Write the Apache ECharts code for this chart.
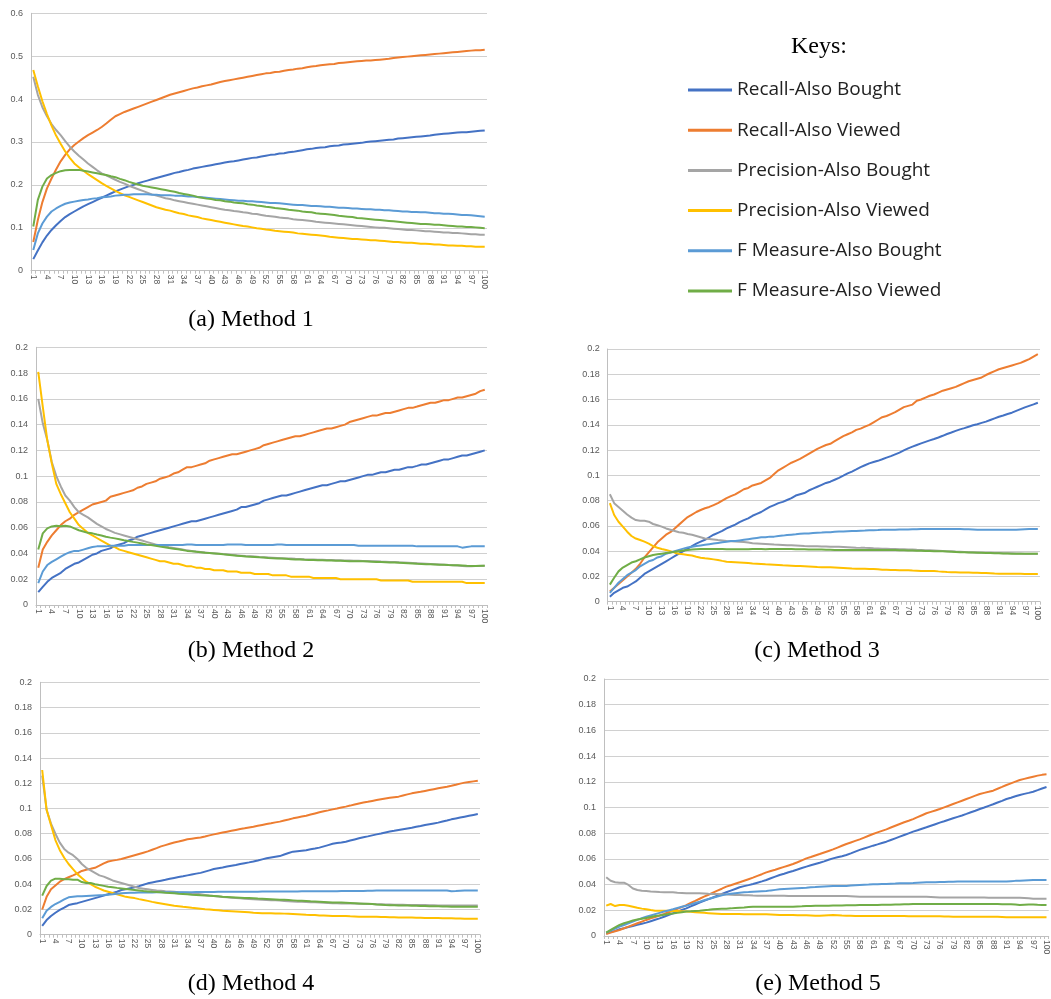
<!DOCTYPE html>
<html>
<head>
<meta charset="utf-8">
<title>Recall, Precision and F Measure by Method</title>
<script src="https://cdn.jsdelivr.net/npm/echarts@6/dist/echarts.min.js"></script>
<style>
  html, body { margin: 0; padding: 0; background: #ffffff; }
  #chart { width: 1051px; height: 999px; }
</style>
</head>
<body>
<div id="chart"></div>
<script>
// Top-N list length on the category axis
const categories = [
  '1','2','3','4','5','6','7','8','9','10','11','12','13','14','15','16','17','18','19','20',
  '21','22','23','24','25','26','27','28','29','30','31','32','33','34','35','36','37','38','39','40',
  '41','42','43','44','45','46','47','48','49','50','51','52','53','54','55','56','57','58','59','60',
  '61','62','63','64','65','66','67','68','69','70','71','72','73','74','75','76','77','78','79','80',
  '81','82','83','84','85','86','87','88','89','90','91','92','93','94','95','96','97','98','99','100'
];

const seriesNames = [
  'Recall-Also Bought', 'Recall-Also Viewed',
  'Precision-Also Bought', 'Precision-Also Viewed',
  'F Measure-Also Bought', 'F Measure-Also Viewed'
];

const captions = ['(a) Method 1', '(b) Method 2', '(c) Method 3', '(d) Method 4', '(e) Method 5'];
const keysTitle = 'Keys:';

// ---------- Method 1 ----------
const m1RecallBought = [
  0.027,0.047,0.066,0.082,0.095,0.106,0.116,0.125,0.132,0.138,
  0.144,0.150,0.155,0.160,0.165,0.170,0.175,0.180,0.185,0.189,
  0.193,0.197,0.200,0.204,0.207,0.210,0.213,0.216,0.219,0.222,
  0.225,0.228,0.230,0.233,0.235,0.238,0.240,0.242,0.244,0.246,
  0.248,0.250,0.252,0.254,0.255,0.257,0.259,0.261,0.263,0.264,
  0.266,0.268,0.270,0.271,0.273,0.274,0.276,0.277,0.279,0.281,
  0.283,0.284,0.286,0.287,0.288,0.290,0.291,0.292,0.294,0.295,
  0.296,0.297,0.298,0.300,0.301,0.302,0.303,0.304,0.305,0.306,
  0.308,0.309,0.310,0.311,0.312,0.313,0.314,0.315,0.317,0.318,
  0.319,0.320,0.321,0.322,0.323,0.323,0.324,0.325,0.326,0.327
];
const m1RecallViewed = [
  0.067,0.118,0.160,0.192,0.215,0.236,0.255,0.270,0.283,0.293,
  0.301,0.309,0.316,0.322,0.328,0.335,0.343,0.352,0.360,0.365,
  0.370,0.374,0.378,0.382,0.386,0.390,0.394,0.398,0.402,0.406,
  0.410,0.413,0.416,0.419,0.422,0.425,0.427,0.430,0.432,0.434,
  0.437,0.440,0.442,0.444,0.446,0.448,0.450,0.452,0.454,0.456,
  0.458,0.460,0.461,0.463,0.464,0.466,0.468,0.469,0.471,0.472,
  0.474,0.476,0.477,0.479,0.480,0.481,0.482,0.484,0.485,0.486,
  0.487,0.488,0.489,0.490,0.490,0.491,0.492,0.493,0.494,0.496,
  0.497,0.498,0.499,0.500,0.501,0.502,0.503,0.504,0.505,0.506,
  0.507,0.508,0.509,0.510,0.511,0.512,0.513,0.514,0.514,0.515
];
const m1PrecisionBought = [
  0.452,0.410,0.381,0.360,0.342,0.328,0.316,0.302,0.289,0.278,
  0.268,0.259,0.250,0.242,0.234,0.227,0.222,0.217,0.212,0.207,
  0.203,0.198,0.194,0.190,0.186,0.182,0.178,0.175,0.172,0.169,
  0.167,0.164,0.162,0.160,0.158,0.156,0.154,0.152,0.150,0.148,
  0.146,0.144,0.142,0.141,0.139,0.138,0.136,0.135,0.133,0.132,
  0.130,0.128,0.127,0.126,0.124,0.123,0.122,0.120,0.119,0.118,
  0.117,0.116,0.114,0.113,0.112,0.111,0.110,0.109,0.108,0.107,
  0.106,0.105,0.104,0.103,0.102,0.101,0.100,0.100,0.099,0.098,
  0.097,0.096,0.095,0.095,0.094,0.093,0.092,0.092,0.091,0.090,
  0.089,0.089,0.088,0.088,0.087,0.086,0.085,0.085,0.084,0.084
];
const m1PrecisionViewed = [
  0.468,0.430,0.395,0.365,0.338,0.315,0.296,0.278,0.263,0.250,
  0.241,0.233,0.225,0.218,0.211,0.204,0.198,0.192,0.186,0.181,
  0.176,0.172,0.168,0.164,0.160,0.156,0.152,0.148,0.145,0.142,
  0.140,0.137,0.134,0.132,0.129,0.127,0.125,0.122,0.120,0.118,
  0.116,0.114,0.112,0.110,0.108,0.106,0.104,0.103,0.101,0.099,
  0.098,0.096,0.095,0.093,0.092,0.091,0.090,0.089,0.087,0.086,
  0.085,0.084,0.083,0.082,0.081,0.079,0.078,0.077,0.076,0.075,
  0.074,0.074,0.073,0.072,0.071,0.071,0.070,0.069,0.068,0.067,
  0.067,0.066,0.065,0.065,0.064,0.063,0.063,0.062,0.061,0.061,
  0.060,0.059,0.059,0.058,0.058,0.057,0.057,0.056,0.056,0.056
];
const m1FMeasureBought = [
  0.048,0.087,0.110,0.126,0.138,0.145,0.151,0.156,0.159,0.161,
  0.163,0.165,0.166,0.168,0.169,0.171,0.172,0.173,0.175,0.176,
  0.177,0.177,0.178,0.178,0.178,0.178,0.177,0.177,0.176,0.176,
  0.176,0.175,0.175,0.174,0.173,0.173,0.172,0.171,0.170,0.169,
  0.168,0.167,0.166,0.165,0.164,0.163,0.163,0.162,0.162,0.161,
  0.160,0.159,0.158,0.158,0.157,0.156,0.155,0.154,0.153,0.153,
  0.152,0.151,0.151,0.150,0.149,0.149,0.148,0.147,0.147,0.146,
  0.145,0.145,0.144,0.143,0.143,0.142,0.142,0.141,0.141,0.140,
  0.139,0.138,0.138,0.137,0.137,0.136,0.136,0.135,0.134,0.134,
  0.133,0.133,0.132,0.131,0.130,0.130,0.129,0.128,0.127,0.126
];
const m1FMeasureViewed = [
  0.103,0.165,0.196,0.215,0.223,0.228,0.232,0.234,0.235,0.235,
  0.235,0.233,0.231,0.229,0.227,0.225,0.223,0.220,0.218,0.214,
  0.211,0.207,0.204,0.201,0.198,0.196,0.194,0.192,0.190,0.188,
  0.186,0.184,0.181,0.179,0.177,0.175,0.172,0.170,0.168,0.167,
  0.165,0.164,0.162,0.161,0.159,0.158,0.157,0.155,0.154,0.152,
  0.151,0.149,0.148,0.146,0.145,0.144,0.142,0.141,0.140,0.138,
  0.137,0.136,0.134,0.133,0.132,0.131,0.130,0.128,0.127,0.126,
  0.125,0.123,0.122,0.121,0.120,0.119,0.118,0.117,0.116,0.115,
  0.114,0.113,0.112,0.111,0.110,0.109,0.109,0.108,0.107,0.107,
  0.106,0.105,0.104,0.103,0.103,0.102,0.102,0.101,0.100,0.099
];

// ---------- Method 2 ----------
const m2RecallBought = [
  0.010,0.014,0.018,0.021,0.023,0.025,0.028,0.030,0.032,0.033,
  0.035,0.037,0.039,0.040,0.042,0.043,0.044,0.046,0.047,0.048,
  0.050,0.051,0.053,0.054,0.055,0.056,0.057,0.058,0.059,0.060,
  0.061,0.062,0.063,0.064,0.065,0.065,0.066,0.067,0.068,0.069,
  0.070,0.071,0.072,0.073,0.074,0.076,0.076,0.077,0.078,0.079,
  0.081,0.082,0.083,0.084,0.085,0.085,0.086,0.087,0.088,0.089,
  0.090,0.091,0.092,0.093,0.093,0.094,0.095,0.096,0.096,0.097,
  0.098,0.099,0.100,0.101,0.101,0.102,0.103,0.103,0.104,0.105,
  0.105,0.106,0.107,0.107,0.108,0.109,0.109,0.110,0.111,0.112,
  0.113,0.113,0.114,0.115,0.116,0.116,0.117,0.118,0.119,0.120
];
const m2RecallViewed = [
  0.029,0.043,0.049,0.054,0.058,0.062,0.065,0.067,0.070,0.072,
  0.074,0.076,0.078,0.079,0.080,0.081,0.084,0.085,0.086,0.087,
  0.088,0.089,0.091,0.092,0.094,0.095,0.096,0.098,0.099,0.100,
  0.102,0.103,0.105,0.107,0.107,0.108,0.109,0.110,0.112,0.113,
  0.114,0.115,0.116,0.117,0.117,0.118,0.119,0.120,0.121,0.122,
  0.124,0.125,0.126,0.127,0.128,0.129,0.130,0.131,0.131,0.132,
  0.133,0.134,0.135,0.136,0.137,0.137,0.138,0.139,0.140,0.142,
  0.143,0.144,0.145,0.146,0.147,0.147,0.148,0.149,0.149,0.150,
  0.151,0.152,0.153,0.153,0.154,0.155,0.156,0.157,0.157,0.158,
  0.159,0.159,0.160,0.161,0.161,0.162,0.163,0.164,0.166,0.167
];
const m2PrecisionBought = [
  0.160,0.141,0.128,0.111,0.100,0.092,0.085,0.081,0.076,0.072,
  0.070,0.068,0.0655,0.063,0.061,0.059,0.0575,0.056,0.055,0.054,
  0.053,0.052,0.051,0.050,0.049,0.048,0.047,0.0462,0.0455,0.0448,
  0.0442,0.0436,0.043,0.0424,0.042,0.0416,0.0412,0.0408,0.0404,0.0401,
  0.0398,0.0395,0.0392,0.0389,0.0386,0.0383,0.038,0.0378,0.0376,0.0373,
  0.0371,0.0369,0.0367,0.0365,0.0363,0.0361,0.036,0.0358,0.0357,0.0355,
  0.0354,0.0353,0.0352,0.0351,0.035,0.0349,0.0348,0.0347,0.0346,0.0345,
  0.0344,0.0343,0.0342,0.0341,0.034,0.0339,0.0337,0.0336,0.0334,0.0333,
  0.0331,0.033,0.0328,0.0326,0.0324,0.0322,0.032,0.0318,0.0316,0.0314,
  0.0312,0.031,0.0308,0.0306,0.0303,0.0301,0.0301,0.0302,0.0303,0.0304
];
const m2PrecisionViewed = [
  0.181,0.154,0.128,0.110,0.094,0.086,0.079,0.072,0.067,0.062,
  0.059,0.056,0.054,0.052,0.050,0.048,0.046,0.045,0.043,0.042,
  0.041,0.040,0.039,0.038,0.037,0.036,0.035,0.034,0.034,0.033,
  0.032,0.032,0.031,0.030,0.030,0.029,0.029,0.028,0.028,0.027,
  0.027,0.027,0.026,0.026,0.026,0.025,0.025,0.025,0.024,0.024,
  0.024,0.024,0.023,0.023,0.023,0.023,0.022,0.022,0.022,0.022,
  0.022,0.021,0.021,0.021,0.021,0.021,0.021,0.020,0.020,0.020,
  0.020,0.020,0.020,0.020,0.020,0.020,0.019,0.019,0.019,0.019,
  0.019,0.019,0.019,0.018,0.018,0.018,0.018,0.018,0.018,0.018,
  0.018,0.018,0.018,0.018,0.018,0.017,0.017,0.017,0.017,0.017
];
const m2FMeasureBought = [
  0.017,0.026,0.031,0.0335,0.0355,0.0375,0.0395,0.041,0.042,0.042,
  0.043,0.044,0.045,0.0455,0.0455,0.0455,0.046,0.046,0.046,0.046,
  0.0465,0.0465,0.0465,0.0465,0.0465,0.0465,0.0465,0.0465,0.0465,0.0465,
  0.0465,0.0465,0.0465,0.047,0.047,0.0465,0.0465,0.0465,0.0465,0.0465,
  0.0465,0.0465,0.047,0.047,0.047,0.047,0.0465,0.0465,0.0465,0.0465,
  0.0465,0.0465,0.0465,0.047,0.047,0.0465,0.0465,0.0465,0.0465,0.0465,
  0.0465,0.0465,0.0465,0.0465,0.0465,0.0465,0.0465,0.0465,0.0465,0.0465,
  0.0465,0.046,0.046,0.046,0.046,0.046,0.046,0.046,0.046,0.046,
  0.046,0.046,0.046,0.046,0.0455,0.0455,0.0455,0.0455,0.0455,0.0455,
  0.0455,0.0455,0.0455,0.0455,0.0445,0.045,0.0455,0.0455,0.0455,0.0455
];
const m2FMeasureViewed = [
  0.043,0.0556,0.0595,0.061,0.0615,0.0612,0.0615,0.061,0.0595,0.058,
  0.057,0.056,0.0556,0.0547,0.054,0.053,0.0523,0.0517,0.051,0.0503,
  0.0497,0.049,0.0484,0.0477,0.047,0.0465,0.0459,0.0453,0.0448,0.0442,
  0.0437,0.0432,0.0426,0.042,0.0417,0.0413,0.041,0.0406,0.0403,0.040,
  0.0397,0.0393,0.039,0.0387,0.0383,0.038,0.0377,0.0375,0.0373,0.037,
  0.0368,0.0365,0.0363,0.0361,0.036,0.0358,0.0356,0.0354,0.0353,0.0351,
  0.035,0.0349,0.0348,0.0347,0.0346,0.0345,0.0344,0.0343,0.0342,0.034,
  0.034,0.0339,0.0339,0.0338,0.0336,0.0334,0.0333,0.0332,0.033,0.0329,
  0.0328,0.0326,0.0324,0.0322,0.032,0.0319,0.0317,0.0316,0.0315,0.0313,
  0.0312,0.031,0.0309,0.0308,0.0306,0.0304,0.0303,0.0302,0.0304,0.0305
];

// ---------- Method 3 ----------
const m3RecallBought = [
  0.004,0.007,0.009,0.011,0.012,0.014,0.016,0.019,0.022,0.024,
  0.026,0.028,0.030,0.032,0.034,0.036,0.038,0.040,0.042,0.044,
  0.046,0.0475,0.049,0.051,0.053,0.0545,0.056,0.058,0.0595,0.061,
  0.063,0.0645,0.066,0.068,0.0695,0.071,0.073,0.075,0.0765,0.078,
  0.079,0.0805,0.082,0.084,0.085,0.086,0.088,0.0895,0.091,0.0925,
  0.094,0.095,0.0965,0.098,0.0997,0.1015,0.103,0.1047,0.1065,0.108,
  0.1095,0.1105,0.1115,0.1127,0.114,0.1152,0.1166,0.118,0.1197,0.1214,
  0.1227,0.124,0.1253,0.1265,0.1277,0.1288,0.130,0.1313,0.1327,0.1339,
  0.1352,0.1364,0.1374,0.1385,0.1396,0.1405,0.1415,0.1425,0.1438,0.1451,
  0.1464,0.1474,0.1485,0.1496,0.151,0.1524,0.1538,0.155,0.1562,0.1575
];
const m3RecallViewed = [
  0.008,0.011,0.014,0.017,0.020,0.023,0.026,0.030,0.035,0.039,
  0.043,0.047,0.050,0.053,0.055,0.058,0.061,0.064,0.067,0.069,
  0.071,0.0726,0.074,0.075,0.0765,0.078,0.080,0.082,0.0835,0.085,
  0.087,0.089,0.090,0.092,0.093,0.094,0.096,0.098,0.101,0.104,
  0.106,0.108,0.110,0.1115,0.113,0.115,0.117,0.119,0.121,0.1225,
  0.124,0.125,0.127,0.129,0.131,0.1325,0.134,0.136,0.137,0.1385,
  0.140,0.142,0.144,0.146,0.147,0.1485,0.150,0.152,0.154,0.155,
  0.156,0.159,0.160,0.1615,0.163,0.164,0.1655,0.167,0.168,0.169,
  0.170,0.1715,0.173,0.1745,0.1755,0.1765,0.1775,0.1794,0.181,0.1825,
  0.184,0.185,0.186,0.187,0.188,0.189,0.1905,0.192,0.194,0.196
];
const m3PrecisionBought = [
  0.085,0.078,0.075,0.072,0.069,0.0665,0.0646,0.064,0.064,0.0633,
  0.0615,0.0605,0.0594,0.058,0.057,0.056,0.055,0.0545,0.0536,0.053,
  0.052,0.051,0.050,0.0497,0.0493,0.0488,0.0484,0.048,0.0478,0.0476,
  0.0475,0.0472,0.0468,0.0462,0.046,0.0458,0.0456,0.0454,0.0452,0.0451,
  0.0449,0.0447,0.0446,0.0444,0.0442,0.044,0.0439,0.0438,0.0438,0.0437,
  0.0436,0.0435,0.0434,0.0434,0.0433,0.0431,0.0429,0.0427,0.0426,0.0426,
  0.0425,0.0423,0.0422,0.042,0.0419,0.0418,0.0417,0.0416,0.0415,0.0414,
  0.0413,0.0411,0.041,0.0408,0.0407,0.0406,0.0404,0.0402,0.040,0.0399,
  0.0397,0.0396,0.0394,0.0392,0.039,0.0389,0.0388,0.0388,0.0387,0.0386,
  0.0385,0.0384,0.0384,0.0383,0.0382,0.0381,0.038,0.038,0.038,0.038
];
const m3PrecisionViewed = [
  0.078,0.0686,0.0633,0.0594,0.0554,0.052,0.050,0.0488,0.0475,0.046,
  0.044,0.0427,0.0417,0.041,0.040,0.0388,0.038,0.0375,0.037,0.0365,
  0.0356,0.0348,0.0343,0.0339,0.0335,0.033,0.0323,0.0317,0.0315,0.0313,
  0.0311,0.0309,0.0306,0.0303,0.0301,0.0299,0.0296,0.0294,0.0292,0.029,
  0.0288,0.0287,0.0285,0.0283,0.0282,0.028,0.0278,0.0276,0.0274,0.0273,
  0.0273,0.0272,0.027,0.0268,0.0266,0.0264,0.0262,0.0261,0.026,0.026,
  0.0259,0.0258,0.0256,0.0253,0.0252,0.0251,0.025,0.0249,0.0249,0.0248,
  0.0246,0.0245,0.0243,0.0243,0.0243,0.0243,0.024,0.0238,0.0235,0.0234,
  0.0233,0.0232,0.0232,0.0231,0.023,0.0229,0.0228,0.0227,0.0225,0.0223,
  0.0222,0.0222,0.0222,0.0222,0.0221,0.0221,0.022,0.022,0.022,0.022
];
const m3FMeasureBought = [
  0.007,0.011,0.015,0.018,0.021,0.023,0.025,0.028,0.030,0.032,
  0.033,0.035,0.036,0.038,0.039,0.040,0.041,0.042,0.043,0.0435,
  0.044,0.0445,0.045,0.0455,0.046,0.0465,0.047,0.0475,0.048,0.048,
  0.0485,0.049,0.0495,0.050,0.0505,0.051,0.051,0.0515,0.0515,0.052,
  0.0523,0.0527,0.053,0.0533,0.0537,0.054,0.054,0.0543,0.0545,0.0547,
  0.055,0.055,0.0553,0.0555,0.0555,0.0558,0.056,0.056,0.0562,0.0563,
  0.0565,0.0566,0.0567,0.057,0.057,0.057,0.057,0.0572,0.0572,0.0572,
  0.0573,0.0574,0.0575,0.0575,0.0575,0.0575,0.0575,0.0575,0.0575,0.0575,
  0.0575,0.0575,0.0574,0.0573,0.0572,0.057,0.057,0.057,0.057,0.057,
  0.057,0.057,0.057,0.057,0.057,0.0572,0.0574,0.0575,0.0575,0.0575
];
const m3FMeasureViewed = [
  0.0135,0.019,0.024,0.027,0.029,0.031,0.032,0.0335,0.035,0.036,
  0.037,0.0375,0.038,0.0385,0.039,0.0395,0.040,0.0405,0.041,0.0413,
  0.0415,0.0417,0.0418,0.0418,0.0418,0.0418,0.0418,0.0416,0.0415,0.0415,
  0.0415,0.0415,0.0416,0.0418,0.0418,0.0417,0.0415,0.0417,0.0418,0.0418,
  0.0418,0.0418,0.0417,0.0416,0.0415,0.0415,0.0414,0.0414,0.0413,0.0413,
  0.0412,0.0411,0.041,0.041,0.041,0.041,0.041,0.041,0.041,0.041,
  0.041,0.041,0.041,0.041,0.041,0.041,0.0409,0.0408,0.0407,0.0406,
  0.0405,0.0404,0.0403,0.0402,0.0401,0.040,0.040,0.040,0.0398,0.0396,
  0.0394,0.0392,0.0391,0.039,0.0389,0.0388,0.0387,0.0386,0.0385,0.0384,
  0.0383,0.0382,0.0381,0.038,0.038,0.038,0.038,0.038,0.038,0.038
];

// ---------- Method 4 ----------
const m4RecallBought = [
  0.007,0.0116,0.0148,0.0174,0.0196,0.0214,0.0235,0.0243,0.025,0.026,
  0.027,0.028,0.029,0.030,0.031,0.032,0.033,0.034,0.0354,0.036,
  0.0368,0.0375,0.0385,0.0396,0.0407,0.0414,0.0421,0.0428,0.0435,0.0443,
  0.045,0.0457,0.0463,0.047,0.0477,0.0484,0.049,0.050,0.051,0.052,
  0.0527,0.0533,0.054,0.0547,0.0553,0.056,0.0567,0.0573,0.058,0.0588,
  0.0597,0.0605,0.0611,0.0617,0.0623,0.0635,0.0647,0.0658,0.0662,0.0666,
  0.067,0.0677,0.0683,0.069,0.070,0.071,0.072,0.0726,0.0731,0.0737,
  0.0746,0.0755,0.0764,0.0772,0.0779,0.0787,0.0795,0.0802,0.081,0.0817,
  0.0823,0.083,0.0836,0.0842,0.0848,0.0855,0.0862,0.087,0.0876,0.0882,
  0.0888,0.0897,0.0905,0.0914,0.0921,0.0928,0.0935,0.0942,0.0949,0.0956
];
const m4RecallViewed = [
  0.020,0.030,0.036,0.039,0.042,0.044,0.0455,0.047,0.0486,0.0505,
  0.0515,0.0522,0.053,0.0547,0.0565,0.058,0.0587,0.0593,0.060,0.061,
  0.062,0.063,0.064,0.065,0.066,0.0673,0.0686,0.070,0.071,0.072,
  0.073,0.0738,0.0747,0.0756,0.0761,0.0766,0.077,0.0778,0.0787,0.0795,
  0.0802,0.0809,0.0816,0.0823,0.083,0.0837,0.0843,0.085,0.0856,0.0863,
  0.087,0.0877,0.0883,0.089,0.0896,0.0905,0.0913,0.0922,0.0929,0.0936,
  0.0943,0.0952,0.0961,0.097,0.0978,0.0985,0.0993,0.100,0.1008,0.1015,
  0.1023,0.1032,0.104,0.1047,0.1053,0.106,0.1067,0.1074,0.108,0.1085,
  0.109,0.1094,0.1103,0.1112,0.112,0.1126,0.1132,0.1139,0.1146,0.1153,
  0.116,0.1167,0.1173,0.118,0.1188,0.1197,0.1205,0.121,0.1215,0.122
];
const m4PrecisionBought = [
  0.126,0.099,0.088,0.080,0.073,0.068,0.065,0.063,0.060,0.056,
  0.053,0.051,0.049,0.047,0.046,0.0445,0.043,0.042,0.041,0.040,
  0.039,0.038,0.037,0.0365,0.036,0.0355,0.035,0.0348,0.0345,0.0343,
  0.034,0.0337,0.0335,0.0333,0.0329,0.0325,0.032,0.0315,0.031,0.0306,
  0.0303,0.0299,0.0296,0.0293,0.029,0.0288,0.0285,0.0283,0.028,0.0278,
  0.0277,0.0275,0.0273,0.0272,0.027,0.0268,0.0266,0.0264,0.0262,0.0261,
  0.0259,0.0258,0.0257,0.0256,0.0254,0.0252,0.025,0.0249,0.0248,0.0248,
  0.0247,0.0247,0.0246,0.0245,0.0244,0.0243,0.0242,0.0241,0.024,0.0239,
  0.0238,0.0238,0.0237,0.0236,0.0235,0.0235,0.0235,0.0235,0.0234,0.0233,
  0.0232,0.0232,0.0232,0.0232,0.0232,0.0232,0.0232,0.0232,0.0232,0.0232
];
const m4PrecisionViewed = [
  0.1305,0.099,0.087,0.075,0.067,0.061,0.056,0.052,0.048,0.045,
  0.042,0.040,0.038,0.0365,0.035,0.034,0.033,0.032,0.031,0.030,
  0.0295,0.029,0.0282,0.0275,0.0268,0.026,0.0254,0.0248,0.0242,0.0236,
  0.023,0.0226,0.0221,0.0217,0.0213,0.021,0.0206,0.0202,0.0199,0.0196,
  0.0193,0.019,0.0188,0.0186,0.0184,0.0182,0.018,0.0177,0.0174,0.0172,
  0.017,0.0169,0.0169,0.0168,0.0168,0.0167,0.0166,0.0164,0.0162,0.016,
  0.0158,0.0157,0.0156,0.0153,0.0152,0.015,0.0148,0.0148,0.0148,0.0148,
  0.0146,0.0145,0.0143,0.0143,0.0143,0.0143,0.0142,0.0141,0.014,0.0139,
  0.0138,0.0137,0.0137,0.0137,0.0136,0.0135,0.0134,0.0132,0.0132,0.0132,
  0.0132,0.0131,0.0131,0.013,0.0129,0.0128,0.0127,0.0127,0.0127,0.0127
];
const m4FMeasureBought = [
  0.013,0.019,0.022,0.0243,0.026,0.028,0.0296,0.030,0.0304,0.0304,
  0.0306,0.0308,0.031,0.0312,0.0314,0.0317,0.032,0.0324,0.0328,0.033,
  0.0332,0.0333,0.0334,0.0335,0.0335,0.0335,0.0336,0.0336,0.0336,0.0336,
  0.0337,0.0337,0.0337,0.0337,0.0337,0.0338,0.0338,0.0338,0.0338,0.0338,
  0.034,0.034,0.034,0.034,0.034,0.034,0.034,0.034,0.034,0.034,
  0.0342,0.0342,0.0342,0.0342,0.0343,0.0343,0.0343,0.0343,0.0343,0.0344,
  0.0344,0.0344,0.0344,0.0345,0.0345,0.0345,0.0345,0.0345,0.0346,0.0346,
  0.0346,0.0346,0.0347,0.0347,0.0348,0.0349,0.035,0.035,0.035,0.035,
  0.035,0.035,0.035,0.035,0.035,0.035,0.035,0.035,0.035,0.035,
  0.035,0.035,0.035,0.0345,0.0346,0.0348,0.035,0.035,0.035,0.035
];
const m4FMeasureViewed = [
  0.031,0.0386,0.0428,0.0444,0.0444,0.0439,0.0439,0.0436,0.0436,0.0417,
  0.041,0.041,0.040,0.0393,0.0387,0.038,0.0376,0.0371,0.0367,0.0363,
  0.0358,0.0354,0.035,0.0346,0.0343,0.034,0.0338,0.0336,0.0333,0.0331,
  0.0328,0.0325,0.0323,0.032,0.0317,0.0315,0.0312,0.031,0.0308,0.0306,
  0.0304,0.0301,0.0299,0.0297,0.0295,0.0293,0.0291,0.029,0.0288,0.0286,
  0.0285,0.0283,0.0281,0.0279,0.0277,0.0276,0.0274,0.0272,0.027,0.0269,
  0.0267,0.0265,0.0264,0.0262,0.026,0.0258,0.0256,0.0256,0.0255,0.0254,
  0.0252,0.025,0.0248,0.0246,0.0245,0.0243,0.024,0.0238,0.0235,0.0234,
  0.0233,0.0232,0.0231,0.0231,0.023,0.0229,0.0228,0.0227,0.0226,0.0226,
  0.0225,0.0224,0.0223,0.0222,0.0222,0.0222,0.0222,0.0222,0.0222,0.0222
];

// ---------- Method 5 ----------
const m5RecallBought = [
  0.002,0.003,0.004,0.0052,0.006,0.007,0.0078,0.0087,0.0096,0.0104,
  0.0115,0.0126,0.0137,0.015,0.0163,0.0176,0.0189,0.0202,0.0215,0.023,
  0.0245,0.026,0.0273,0.0287,0.030,0.0313,0.0327,0.034,0.0353,0.0366,
  0.0379,0.0388,0.0396,0.0405,0.0415,0.0425,0.0436,0.0449,0.0462,0.0475,
  0.0485,0.0496,0.0506,0.0517,0.0529,0.054,0.055,0.056,0.057,0.0581,
  0.0593,0.0604,0.0613,0.0621,0.063,0.0643,0.0657,0.067,0.0681,0.0692,
  0.0703,0.0713,0.0724,0.0734,0.0747,0.076,0.0773,0.0786,0.0799,0.0812,
  0.0823,0.0835,0.0846,0.0858,0.087,0.0882,0.0893,0.0905,0.0916,0.0927,
  0.0938,0.095,0.0963,0.0975,0.0988,0.100,0.1013,0.1025,0.1039,0.1052,
  0.1066,0.1076,0.1087,0.1097,0.1106,0.1114,0.1123,0.1135,0.1148,0.116
];
const m5RecallViewed = [
  0.0016,0.0026,0.0037,0.0047,0.006,0.0073,0.0086,0.0099,0.0112,0.0125,
  0.0137,0.0148,0.016,0.0172,0.0185,0.0197,0.0211,0.0225,0.024,0.0257,
  0.0273,0.029,0.0306,0.0321,0.0337,0.0353,0.0368,0.0384,0.0395,0.0407,
  0.0418,0.043,0.0442,0.0454,0.0468,0.0481,0.0495,0.0506,0.0516,0.0527,
  0.0538,0.0549,0.056,0.0574,0.0589,0.0604,0.0615,0.0627,0.0638,0.065,
  0.0662,0.0674,0.0688,0.0702,0.0716,0.0728,0.074,0.0752,0.0766,0.078,
  0.0794,0.0806,0.0818,0.083,0.0844,0.0858,0.0872,0.0885,0.0897,0.091,
  0.0925,0.094,0.0955,0.0966,0.0977,0.0988,0.1001,0.1014,0.1027,0.104,
  0.1053,0.1066,0.1079,0.1092,0.1105,0.1114,0.1122,0.1131,0.1146,0.116,
  0.1175,0.1188,0.1201,0.1214,0.1223,0.1232,0.124,0.1248,0.1254,0.1258
];
const m5PrecisionBought = [
  0.0457,0.043,0.0418,0.0415,0.0415,0.0397,0.037,0.0358,0.0353,0.035,
  0.0347,0.0345,0.0342,0.0341,0.034,0.034,0.0337,0.0335,0.0332,0.0332,
  0.0332,0.0332,0.033,0.0328,0.0327,0.0326,0.0324,0.0322,0.0321,0.032,
  0.0319,0.0318,0.0317,0.0315,0.0314,0.0314,0.0314,0.0314,0.0314,0.0314,
  0.0313,0.0312,0.0311,0.0311,0.0311,0.0311,0.0311,0.0311,0.0311,0.0311,
  0.0311,0.0311,0.0311,0.0311,0.0311,0.031,0.0308,0.0306,0.0306,0.0306,
  0.0306,0.0306,0.0306,0.0306,0.0306,0.0306,0.0306,0.0306,0.0306,0.0306,
  0.0306,0.0306,0.0306,0.0304,0.0302,0.030,0.030,0.030,0.030,0.030,
  0.030,0.030,0.030,0.030,0.030,0.0299,0.0298,0.0298,0.0298,0.0298,
  0.0298,0.0298,0.0298,0.0298,0.0296,0.0293,0.029,0.029,0.029,0.029
];
const m5PrecisionViewed = [
  0.0236,0.0249,0.0233,0.0241,0.0241,0.0236,0.0228,0.022,0.0213,0.0208,
  0.0202,0.0197,0.0197,0.0196,0.0196,0.0195,0.0194,0.0192,0.019,0.0188,
  0.0185,0.0182,0.018,0.0178,0.0176,0.0174,0.0172,0.0171,0.0171,0.0171,
  0.0171,0.017,0.017,0.0169,0.0169,0.0169,0.0169,0.0167,0.0165,0.0163,
  0.0163,0.0163,0.0163,0.0162,0.0162,0.0161,0.016,0.0158,0.0158,0.016,
  0.0162,0.0163,0.0161,0.0159,0.0158,0.0157,0.0156,0.0156,0.0156,0.0156,
  0.0156,0.0156,0.0156,0.0156,0.0155,0.0155,0.0155,0.0155,0.0154,0.0154,
  0.0154,0.0154,0.0154,0.0154,0.0153,0.0153,0.0152,0.0151,0.015,0.015,
  0.015,0.015,0.015,0.015,0.015,0.015,0.015,0.015,0.0149,0.0147,
  0.0145,0.0145,0.0145,0.0145,0.0145,0.0145,0.0145,0.0145,0.0145,0.0145
];
const m5FMeasureBought = [
  0.0026,0.0042,0.0058,0.0073,0.0086,0.0099,0.0112,0.0125,0.0138,0.015,
  0.016,0.017,0.018,0.019,0.0199,0.0208,0.0218,0.0227,0.0236,0.0246,
  0.0257,0.0267,0.0278,0.0288,0.0298,0.0307,0.0316,0.0324,0.0329,0.0333,
  0.0337,0.034,0.0342,0.0345,0.0347,0.0349,0.035,0.0355,0.0359,0.0363,
  0.0366,0.0368,0.037,0.0372,0.0374,0.0376,0.0379,0.0381,0.0384,0.0386,
  0.0388,0.0389,0.0389,0.039,0.039,0.0393,0.0395,0.0397,0.0399,0.040,
  0.0402,0.0403,0.0404,0.0405,0.0407,0.0408,0.041,0.0411,0.0411,0.0412,
  0.0414,0.0416,0.0418,0.0419,0.0419,0.042,0.0421,0.0422,0.0423,0.0424,
  0.0425,0.0425,0.0425,0.0425,0.0425,0.0425,0.0425,0.0425,0.0425,0.0425,
  0.0425,0.0427,0.0429,0.043,0.0432,0.0434,0.0436,0.0436,0.0436,0.0436
];
const m5FMeasureViewed = [
  0.0026,0.0047,0.0067,0.0086,0.0099,0.011,0.012,0.0128,0.0134,0.014,
  0.0148,0.0155,0.016,0.0166,0.0171,0.0176,0.018,0.0185,0.019,0.0192,
  0.0195,0.0197,0.0201,0.0204,0.0208,0.021,0.0212,0.0213,0.0215,0.0218,
  0.022,0.0222,0.0225,0.0228,0.0228,0.0228,0.0228,0.0228,0.0228,0.0228,
  0.0228,0.0228,0.0228,0.023,0.0231,0.0233,0.0234,0.0235,0.0236,0.0236,
  0.0236,0.0237,0.0238,0.0238,0.0239,0.024,0.024,0.0241,0.0241,0.0241,
  0.0241,0.0242,0.0243,0.0244,0.0244,0.0245,0.0246,0.0247,0.0248,0.0249,
  0.0249,0.0249,0.0249,0.0249,0.0249,0.0249,0.0249,0.0249,0.0249,0.0249,
  0.0249,0.0249,0.0249,0.0249,0.0249,0.0249,0.0249,0.0249,0.0249,0.0248,
  0.0248,0.0247,0.0245,0.0241,0.0243,0.0245,0.0245,0.0243,0.0242,0.0241
];

// Series per method, in the order of seriesNames
const methodSeries = [
  [m1RecallBought, m1RecallViewed, m1PrecisionBought, m1PrecisionViewed, m1FMeasureBought, m1FMeasureViewed],
  [m2RecallBought, m2RecallViewed, m2PrecisionBought, m2PrecisionViewed, m2FMeasureBought, m2FMeasureViewed],
  [m3RecallBought, m3RecallViewed, m3PrecisionBought, m3PrecisionViewed, m3FMeasureBought, m3FMeasureViewed],
  [m4RecallBought, m4RecallViewed, m4PrecisionBought, m4PrecisionViewed, m4FMeasureBought, m4FMeasureViewed],
  [m5RecallBought, m5RecallViewed, m5PrecisionBought, m5PrecisionViewed, m5FMeasureBought, m5FMeasureViewed]
];

// Value-axis ranges per method
const yMax = [0.6, 0.2, 0.2, 0.2, 0.2];
const yStep = [0.1, 0.02, 0.02, 0.02, 0.02];

// ---------- layout and styling ----------
const lineColors = ['#4472C4', '#ED7D31', '#A5A5A5', '#FFC000', '#5B9BD5', '#70AD47'];

const plotBoxes = [
  { left: 31,    top: 13.3,  width: 456,   height: 257.4 },
  { left: 36,    top: 347.3, width: 451,   height: 257.7 },
  { left: 607.7, top: 349,   width: 432.3, height: 252.7 },
  { left: 40,    top: 682.3, width: 440,   height: 252.4 },
  { left: 604,   top: 679,   width: 446,   height: 257 }
];
const captionSpots = [
  { x: 251, y: 320 },
  { x: 251, y: 651 },
  { x: 817, y: 651 },
  { x: 251, y: 984 },
  { x: 818, y: 984 }
];

const axisGray = '#bfbfbf';
const gridGray = '#d0d0d0';
const labelGray = '#595959';
const tickFont = 'Liberation Sans';

const grids = plotBoxes.map(b => ({ left: b.left, top: b.top, width: b.width, height: b.height, containLabel: false }));

const xAxes = plotBoxes.map((b, k) => ({
  type: 'category',
  gridIndex: k,
  data: categories,
  boundaryGap: true,
  axisLine: { show: true, lineStyle: { color: axisGray, width: 1 } },
  axisTick: { show: true, interval: 0, length: 3, lineStyle: { color: axisGray } },
  axisLabel: { interval: 2, rotate: -90, fontSize: 8.5, color: labelGray, margin: 4, fontFamily: tickFont },
  splitLine: { show: false }
}));

const yAxes = plotBoxes.map((b, k) => ({
  type: 'value',
  gridIndex: k,
  min: 0,
  max: yMax[k],
  interval: yStep[k],
  axisLine: { show: true, lineStyle: { color: axisGray, width: 1 } },
  axisTick: { show: false },
  axisLabel: { fontSize: 9, color: labelGray, margin: 8, fontFamily: tickFont },
  splitLine: { show: true, lineStyle: { color: gridGray, width: 1 } }
}));

const series = [];
methodSeries.forEach((group, k) => {
  group.forEach((values, s) => {
    series.push({
      name: seriesNames[s],
      type: 'line',
      xAxisIndex: k,
      yAxisIndex: k,
      data: values,
      showSymbol: false,
      symbol: 'none',
      smooth: false,
      lineStyle: { color: lineColors[s], width: 2 },
      itemStyle: { color: lineColors[s] },
      emphasis: { disabled: true }
    });
  });
});

const textGraphics = captions.map((t, k) => ({
  type: 'text',
  x: captionSpots[k].x,
  y: captionSpots[k].y,
  style: {
    text: t,
    font: '24px "Liberation Serif"',
    fill: '#000000',
    align: 'center',
    verticalAlign: 'middle'
  }
}));
textGraphics.push({
  type: 'text',
  x: 819,
  y: 47,
  style: {
    text: keysTitle,
    font: '24px "Liberation Serif"',
    fill: '#000000',
    align: 'center',
    verticalAlign: 'middle'
  }
});

const chart = echarts.init(document.getElementById('chart'), null, { renderer: 'canvas' });
chart.setOption({
  backgroundColor: '#ffffff',
  animation: false,
  color: lineColors,
  grid: grids,
  xAxis: xAxes,
  yAxis: yAxes,
  legend: {
    data: seriesNames,
    orient: 'vertical',
    left: 683,
    top: 74,
    icon: 'rect',
    itemWidth: 44,
    itemHeight: 3,
    itemGap: 18.2,
    selectedMode: false,
    textStyle: { fontFamily: 'Open Sans', fontSize: 19, color: '#222222', lineHeight: 22 }
  },
  graphic: textGraphics,
  series: series
});
</script>
</body>
</html>
